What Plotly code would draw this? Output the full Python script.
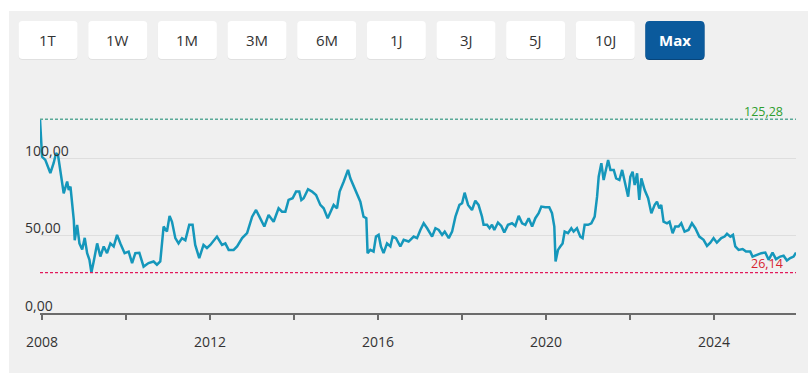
import plotly.graph_objects as go

# ---------------- data ----------------
dates = [
    "2007-12-14", "2008-01-01", "2008-01-29", "2008-03-13", "2008-04-11", "2008-05-02", "2008-05-19", "2008-06-08",
    "2008-07-07", "2008-08-06", "2008-08-20", "2008-09-04", "2008-10-03", "2008-10-11", "2008-11-01", "2008-11-21",
    "2008-12-15", "2009-01-06", "2009-01-27", "2009-02-16", "2009-03-05", "2009-03-25", "2009-04-24", "2009-05-22",
    "2009-06-20", "2009-07-19", "2009-08-17", "2009-09-15", "2009-10-14", "2009-11-12", "2009-12-19", "2010-01-23",
    "2010-02-22", "2010-03-22", "2010-04-26", "2010-06-02", "2010-07-15", "2010-08-28", "2010-09-26", "2010-10-25",
    "2010-11-23", "2010-12-22", "2011-01-14", "2011-02-04", "2011-03-05", "2011-04-02", "2011-05-02", "2011-05-31",
    "2011-07-04", "2011-08-02", "2011-08-25", "2011-09-29", "2011-11-05", "2011-12-05", "2012-01-03", "2012-03-01",
    "2012-04-14", "2012-05-13", "2012-06-11", "2012-07-24", "2012-08-23", "2012-10-06", "2012-11-18", "2013-01-01",
    "2013-02-04", "2013-03-05", "2013-04-17", "2013-05-24", "2013-07-07", "2013-08-19", "2013-09-18", "2013-10-17",
    "2013-11-14", "2013-12-19", "2014-01-18", "2014-02-15", "2014-03-05", "2014-03-25", "2014-05-02", "2014-06-06",
    "2014-07-11", "2014-08-17", "2014-09-15", "2014-10-20", "2014-11-12", "2014-12-11", "2015-01-09", "2015-02-01",
    "2015-03-08", "2015-04-15", "2015-05-05", "2015-06-03", "2015-07-02", "2015-07-31", "2015-08-28", "2015-09-21",
    "2015-10-02", "2015-10-26", "2015-11-23", "2015-12-14", "2016-01-06", "2016-01-26", "2016-02-18", "2016-03-19",
    "2016-04-17", "2016-05-07", "2016-06-05", "2016-07-13", "2016-08-11", "2016-09-23", "2016-11-06", "2016-12-05",
    "2017-01-03", "2017-02-01", "2017-03-03", "2017-04-15", "2017-05-14", "2017-06-12", "2017-07-11", "2017-08-03",
    "2017-09-07", "2017-10-06", "2017-11-04", "2017-12-09", "2018-01-01", "2018-01-23", "2018-02-22", "2018-03-28",
    "2018-04-26", "2018-05-24", "2018-06-23", "2018-07-07", "2018-08-06", "2018-08-28", "2018-09-18", "2018-10-08",
    "2018-11-09", "2018-12-08", "2019-01-03", "2019-02-04", "2019-03-11", "2019-04-09", "2019-05-08", "2019-06-07",
    "2019-07-05", "2019-08-03", "2019-09-02", "2019-09-30", "2019-10-29", "2019-11-21", "2019-12-26", "2020-01-29",
    "2020-02-22", "2020-03-13", "2020-03-24", "2020-04-14", "2020-05-04", "2020-05-24", "2020-06-11", "2020-07-10",
    "2020-08-08", "2020-08-28", "2020-09-26", "2020-10-25", "2020-11-14", "2020-12-02", "2021-01-01", "2021-01-29",
    "2021-02-27", "2021-03-20", "2021-04-03", "2021-04-26", "2021-05-16", "2021-06-07", "2021-06-24", "2021-07-14",
    "2021-08-12", "2021-09-02", "2021-09-30", "2021-10-24", "2021-11-15", "2021-12-15", "2022-01-03", "2022-01-23",
    "2022-02-10", "2022-03-03", "2022-03-22", "2022-04-09", "2022-05-08", "2022-06-07", "2022-07-05", "2022-08-03",
    "2022-08-23", "2022-09-12", "2022-09-29", "2022-10-19", "2022-11-18", "2022-12-10", "2023-01-06", "2023-01-29",
    "2023-02-27", "2023-03-22", "2023-04-20", "2023-05-24", "2023-06-23", "2023-07-22", "2023-08-26", "2023-10-02",
    "2023-11-01", "2023-11-30", "2023-12-28", "2024-01-26", "2024-03-04", "2024-04-02", "2024-04-23", "2024-05-22",
    "2024-06-14", "2024-07-04", "2024-08-02", "2024-09-06", "2024-10-05", "2024-11-11", "2024-12-01", "2025-01-09",
    "2025-02-15", "2025-03-22", "2025-04-20", "2025-05-24", "2025-06-23", "2025-07-30", "2025-08-28", "2025-09-26",
    "2025-10-25", "2025-11-23", "2025-12-14",
]
prices = [
    125.28, 101, 99, 90.5, 97, 103.4, 102, 92.5,
    77.4, 85, 79.5, 81.7, 60, 47, 57, 45,
    41, 48.6, 38.7, 34.4, 26.14, 33.3, 45, 36.5,
    43, 38.7, 45, 43, 50.5, 45, 38.7, 39.7,
    32.3, 38.7, 38.9, 30, 32.3, 33.3, 31.2, 33.3,
    55.9, 52.6, 62.8, 59, 48.4, 45, 48.4, 47,
    57, 57, 44, 35.5, 44, 42, 44, 49.4,
    44, 45, 40.8, 40.8, 43, 48.4, 51.6, 62.3,
    66.6, 62.3, 55.9, 63.4, 59, 67.7, 65.5, 65.5,
    73.1, 74.2, 78.5, 78.5, 73, 74.2, 80, 78.5,
    76.3, 69.9, 67.7, 61.3, 65.5, 69.9, 67.7, 78.5,
    84.9, 92.5, 87.1, 81.7, 77.4, 72, 62.3, 61.3,
    38.7, 40.8, 39.7, 49.4, 50.5, 43, 38.7, 45,
    43, 49.4, 48.4, 43, 47.3, 46.2, 49.4, 48.4,
    53.7, 58, 54.8, 49.4, 54.8, 53.7, 50.5, 52.6,
    48.4, 52.6, 62.3, 69.9, 71, 77.8, 69.9, 66.6,
    72.6, 69.9, 62.3, 57, 57, 54.8, 57, 53.7,
    58.5, 56.3, 52, 57, 58, 56.3, 62.8, 58,
    57, 61.3, 55.9, 61.3, 64.5, 68.8, 68.4, 68.4,
    64.5, 55.9, 33.3, 40.8, 43, 45, 52.6, 51.6,
    54.8, 52.6, 54.8, 49.4, 48.4, 57, 57, 58,
    62.3, 75.2, 88.1, 96.8, 86, 94.6, 98.9, 92.5,
    92.5, 87.1, 86, 92.5, 84.9, 75.2, 88.1, 91.3,
    82.8, 90.3, 73.1, 87.1, 79.5, 74.2, 64.5, 69.9,
    72, 67.7, 69.9, 59, 58, 59, 51.6, 55.9,
    55.9, 58, 52.6, 53.7, 58, 54.8, 49.4, 47.3,
    43.4, 45.5, 48.4, 45.5, 48.4, 49.4, 51.2, 49.4,
    50.5, 43, 40.8, 41.3, 39.7, 39.7, 36.5, 37.6,
    38.7, 39.1, 34.4, 39.1, 34.8, 36.5, 37, 33.9,
    35.5, 36.5, 39.1,
]
assert len(dates) == len(prices), (len(dates), len(prices))

high_value = 125.28
high_label = "125,28"
low_value = 26.14
low_label = "26,14"

range_buttons = ["1T", "1W", "1M", "3M", "6M", "1J", "3J", "5J", "10J", "Max"]
active_button = "Max"

y_grid_values = [0, 50, 100, 150]
y_label_values = [0, 50, 100]
y_label_texts = ["0,00", "50,00", "100,00"]

x_tick_dates = ["2008-01-01", "2010-01-01", "2012-01-01", "2014-01-01", "2016-01-01",
                "2018-01-01", "2020-01-01", "2022-01-01", "2024-01-01"]
x_tick_texts = ["2008", "", "2012", "", "2016", "", "2020", "", "2024"]
x_range = ["2007-12-14", "2025-12-14"]

# ---------------- styling / geometry ----------------
W, H = 811, 373
ML, MR, MT, MB = 40, 15, 81, 60
PW, PH = W - ML - MR, H - MT - MB
FONT = "Open Sans"
LINE_COLOR = "#1597bb"
TEXT_COLOR = "#333333"
PANEL_BG = "#f0f0f0"


def px(x):
    return (x - ML) / PW


def py(y):
    return 1 - (y - MT) / PH


def rrect(x0, y0, x1, y1, r):
    X, Y = px, py
    return (f"M {X(x0 + r)},{Y(y0)} L {X(x1 - r)},{Y(y0)} Q {X(x1)},{Y(y0)} {X(x1)},{Y(y0 + r)} "
            f"L {X(x1)},{Y(y1 - r)} Q {X(x1)},{Y(y1)} {X(x1 - r)},{Y(y1)} L {X(x0 + r)},{Y(y1)} "
            f"Q {X(x0)},{Y(y1)} {X(x0)},{Y(y1 - r)} L {X(x0)},{Y(y0 + r)} Q {X(x0)},{Y(y0)} {X(x0 + r)},{Y(y0)} Z")


fig = go.Figure()
fig.add_trace(go.Scatter(
    x=dates, y=prices, mode="lines",
    line=dict(color=LINE_COLOR, width=2.5),
    hoverinfo="skip", showlegend=False,
))

shapes = []
annotations = []

# gray panel
shapes.append(dict(type="rect", xref="paper", yref="paper",
                   x0=px(9), x1=px(808), y0=py(375), y1=py(11),
                   fillcolor=PANEL_BG, line=dict(width=0), layer="below"))

# range buttons
BX0, BSTEP, BW, BY0, BY1 = 18.6, 69.65, 59, 21, 59
for i, label in enumerate(range_buttons):
    x0 = BX0 + i * BSTEP
    x1 = x0 + BW
    active = label == active_button
    fill = "#0b5a9c" if active else "#ffffff"
    shadow = "#08457a" if active else "#e0e0e0"
    shapes.append(dict(type="path", xref="paper", yref="paper", path=rrect(x0, BY0 + 1, x1, BY1 + 1, 4),
                       fillcolor=shadow, line=dict(width=0), layer="below"))
    shapes.append(dict(type="path", xref="paper", yref="paper", path=rrect(x0, BY0, x1, BY1, 4),
                       fillcolor=fill, line=dict(width=0), layer="below"))
    annotations.append(dict(
        xref="paper", yref="paper", x=px((x0 + x1) / 2), y=py((BY0 + BY1) / 2),
        text=f"<b>{label}</b>" if active else label, showarrow=False,
        xanchor="center", yanchor="middle",
        font=dict(family=FONT, size=15, color="#ffffff" if active else TEXT_COLOR),
    ))

# high / low reference lines
shapes.append(dict(type="line", xref="paper", yref="y", x0=0, x1=1, y0=high_value, y1=high_value,
                   line=dict(color="#5aa998", width=1.3, dash="3px,2px")))
shapes.append(dict(type="line", xref="paper", yref="y", x0=0, x1=1, y0=low_value, y1=low_value,
                   line=dict(color="#e2195b", width=1.3, dash="3px,2px")))
annotations.append(dict(xref="paper", yref="y", x=px(785), y=high_value, yshift=8,
                        text=high_label, showarrow=False, xanchor="right", yanchor="middle",
                        font=dict(family=FONT, size=12.5, color="#2e9e2e")))
annotations.append(dict(xref="paper", yref="y", x=px(785), y=low_value, yshift=9.5,
                        text=low_label, showarrow=False, xanchor="right", yanchor="middle",
                        font=dict(family=FONT, size=12.5, color="#d7232f")))

# y labels (left aligned, above grid lines)
for v, t in zip(y_label_values, y_label_texts):
    annotations.append(dict(xref="paper", yref="y", x=px(23), y=v, yshift=8,
                            text=t, showarrow=False, xanchor="left", yanchor="middle",
                            font=dict(family=FONT, size=14, color=TEXT_COLOR)))

fig.update_layout(
    width=W, height=H,
    margin=dict(l=ML, r=MR, t=MT, b=MB, pad=0),
    paper_bgcolor="#ffffff",
    plot_bgcolor="rgba(0,0,0,0)",
    shapes=shapes,
    annotations=annotations,
    showlegend=False,
    font=dict(family=FONT, size=14, color=TEXT_COLOR),
    xaxis=dict(
        type="date", range=x_range,
        tickvals=x_tick_dates, ticktext=x_tick_texts,
        ticks="outside", ticklen=5, tickwidth=2, tickcolor="#6b6b6b",
        showgrid=False, zeroline=False,
        showline=True, linecolor="#6b6b6b", linewidth=2,
        tickfont=dict(family=FONT, size=14, color=TEXT_COLOR),
        ticklabelstandoff=10,
        fixedrange=True,
    ),
    yaxis=dict(
        range=[0, 150], tickvals=y_grid_values, showticklabels=False,
        showgrid=True, gridcolor="#dedede", gridwidth=1,
        zeroline=False, showline=False, ticks="",
        fixedrange=True,
    ),
)

fig.write_html(
    "out.html",
    config={"displayModeBar": False},
    post_script="document.body.style.margin='0';document.body.style.overflow='hidden';",
)
